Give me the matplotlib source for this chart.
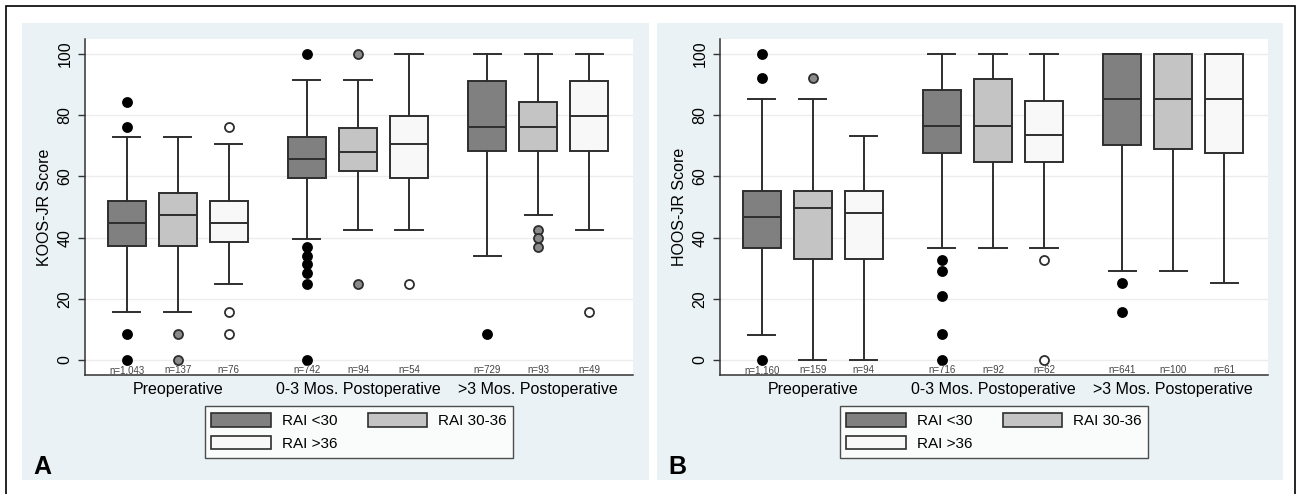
import numpy as np
import matplotlib
matplotlib.use('Agg')
import matplotlib.pyplot as plt
from matplotlib.patches import Rectangle, Patch

plt.rcParams['font.family'] = ['Liberation Sans', 'DejaVu Sans']

periods = ['Preoperative', '0-3 Mos. Postoperative', '>3 Mos. Postoperative']
groups = ['RAI <30', 'RAI 30-36', 'RAI >36']

# box stats per panel, order: pre(<30, 30-36, >36), 0-3(...), >3(...)
# KOOS-JR (panel A)
koos_wlo = [15.8, 15.8, 24.8, 39.5, 42.5, 42.5, 34.1, 47.4, 42.5]
koos_q1 = [37.3, 37.3, 38.5, 59.4, 61.8, 59.4, 68.4, 68.4, 68.4]
koos_med = [44.7, 47.4, 44.7, 65.6, 68.1, 70.6, 76.0, 76.0, 79.6]
koos_q3 = [52.1, 54.5, 52.1, 73.0, 75.7, 79.6, 91.3, 84.3, 91.3]
koos_whi = [73.0, 73.0, 70.6, 91.5, 91.5, 100, 100, 100, 100]
koos_out = [[84.2, 76.0, 8.5, 0], [8.5, 0], [76.0, 15.8, 8.5],
            [100, 37.0, 34.1, 31.3, 28.3, 24.8, 0], [100, 24.8], [24.8],
            [8.5], [42.5, 39.8, 37.0], [15.8]]
koos_n = ['n=1,043', 'n=137', 'n=76', 'n=742', 'n=94', 'n=54',
          'n=729', 'n=93', 'n=49']

# HOOS-JR (panel B)
hoos_wlo = [8.2, 0, 0, 36.5, 36.5, 36.5, 29.2, 29.2, 25.3]
hoos_q1 = [36.5, 33.0, 33.0, 67.5, 64.8, 64.8, 70.3, 69.1, 67.5]
hoos_med = [46.6, 49.8, 48.2, 76.6, 76.6, 73.5, 85.2, 85.2, 85.2]
hoos_q3 = [55.3, 55.3, 55.3, 88.2, 91.7, 84.7, 100, 100, 100]
hoos_whi = [85.2, 85.2, 73.3, 100, 100, 100, 100, 100, 100]
hoos_out = [[100, 92.0, 0], [92.0], [],
            [32.7, 29.1, 20.9, 8.4, 0], [], [32.7, 0],
            [25.3, 15.7], [], []]
hoos_n = ['n=1,160', 'n=159', 'n=94', 'n=716', 'n=92', 'n=62',
          'n=641', 'n=100', 'n=61']

box_colors = ['#808080', '#c4c4c4', '#f8f8f8']
flier_colors = ['#000000', '#8a8a8a', '#ffffff']
edge = '#2e2e2e'
bg = '#eaf2f5'

W, H = 1299, 494
fig = plt.figure(figsize=(W / 100, H / 100), dpi=100)

# outer frame and panel backgrounds
fig.patches.append(Rectangle((6 / W, -0.01), 1289 / W, 1 - 6 / H + 0.01,
                             transform=fig.transFigure, fill=False,
                             edgecolor='black', linewidth=1.2))
for x0, x1 in [(22, 649), (657, 1283)]:
    fig.patches.append(Rectangle((x0 / W, 1 - 480 / H), (x1 - x0) / W,
                                 (480 - 23) / H, transform=fig.transFigure,
                                 facecolor=bg, edgecolor='none', zorder=-1))

pos = [g * 3.53 + j for g in range(3) for j in range(3)]


def panel(left, ylabel, wlo, q1, med, q3, whi, outs, ns, letter):
    ax = fig.add_axes([left / W, 1 - 375 / H, 548 / W, 336 / H])
    ax.set_facecolor('white')
    stats = []
    for i in range(9):
        stats.append(dict(whislo=wlo[i], q1=q1[i], med=med[i], q3=q3[i],
                          whishi=whi[i], fliers=outs[i]))
    for i in range(9):
        k = i % 3
        ax.bxp([stats[i]], positions=[pos[i]], widths=0.75, patch_artist=True,
               capwidths=0.53, manage_ticks=False,
               boxprops=dict(facecolor=box_colors[k], edgecolor=edge, linewidth=1.4),
               medianprops=dict(color=edge, linewidth=1.4),
               whiskerprops=dict(color=edge, linewidth=1.4),
               capprops=dict(color=edge, linewidth=1.4),
               flierprops=dict(marker='o', markersize=6.5,
                               markerfacecolor=flier_colors[k],
                               markeredgecolor=edge if k else 'black',
                               markeredgewidth=1.3, linestyle='none'))
        ax.text(pos[i], -3.3, ns[i], ha='center', va='center', fontsize=7,
                color='#444444')
    ax.set_xlim(-0.82, pos[-1] + 0.86)
    ax.set_ylim(-4.9, 104.9)
    ax.set_yticks([0, 20, 40, 60, 80, 100])
    ax.set_yticklabels(['0', '20', '40', '60', '80', '100'], rotation=90,
                       va='center', fontsize=11.5)
    ax.set_xticks([pos[1], pos[4], pos[7]])
    ax.set_xticklabels(periods, fontsize=11.5)
    ax.tick_params(axis='x', length=0, pad=5)
    ax.tick_params(axis='y', length=5, width=1, color='#333333', pad=4)
    ax.set_ylabel(ylabel, fontsize=11.5, labelpad=4)
    ax.yaxis.grid(True, color='#ececec', linewidth=1)
    ax.set_axisbelow(True)
    for s in ['top', 'right']:
        ax.spines[s].set_visible(False)
    for s in ['left', 'bottom']:
        ax.spines[s].set_color('#333333')
        ax.spines[s].set_linewidth(1.1)

    handles = [Patch(facecolor=box_colors[k], edgecolor=edge, linewidth=1.2)
               for k in range(3)]
    order = [0, 2, 1]
    leg = ax.legend([handles[k] for k in order], [groups[k] for k in order],
                    ncol=2, loc='upper center', bbox_to_anchor=(0.5, -0.07),
                    fontsize=11, frameon=True, fancybox=False,
                    handlelength=3.9, handleheight=1.0, handletextpad=0.7,
                    columnspacing=2.0, labelspacing=0.5, borderpad=0.45)
    leg.get_frame().set_edgecolor('#222222')
    leg.get_frame().set_linewidth(1.0)
    fig.text((left - 52) / W, 1 - 467 / H, letter, fontsize=18,
             fontweight='bold', va='center', ha='left')
    return ax


panel(85, 'KOOS-JR Score', koos_wlo, koos_q1, koos_med, koos_q3, koos_whi,
      koos_out, koos_n, 'A')
panel(720, 'HOOS-JR Score', hoos_wlo, hoos_q1, hoos_med, hoos_q3, hoos_whi,
      hoos_out, hoos_n, 'B')

fig.savefig('out.png', dpi=100, facecolor='white')
